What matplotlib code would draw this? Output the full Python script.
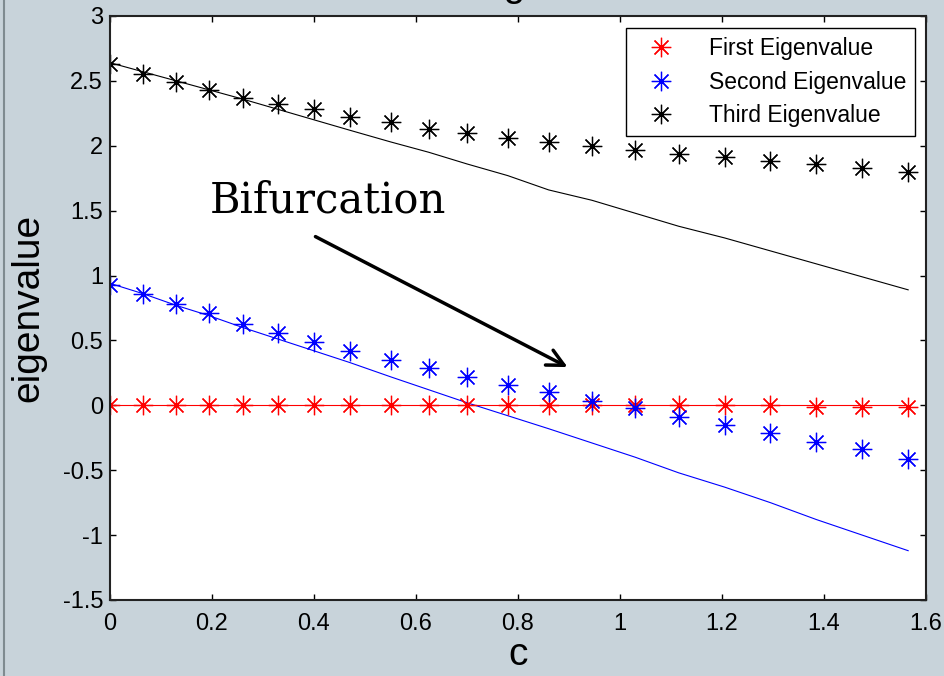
# -*- coding:utf-8 -*-
import matplotlib
matplotlib.use('Agg')
import matplotlib.pyplot as plt
from matplotlib.lines import Line2D

# sample points of c
c = [0.0, 0.065, 0.13, 0.195, 0.26, 0.33, 0.40, 0.47, 0.55, 0.625, 0.70,
     0.78, 0.86, 0.945, 1.03, 1.115, 1.205, 1.295, 1.385, 1.475, 1.565]

# markers (computed eigenvalues)
first_pts = [0.0, 0.0, 0.0, 0.0, 0.0, 0.0, 0.0, 0.0, 0.0, 0.0, 0.0,
             0.0, 0.0, 0.0, 0.0, 0.0, 0.0, 0.0, -0.01, -0.01, -0.01]
second_pts = [0.93, 0.86, 0.78, 0.71, 0.63, 0.56, 0.49, 0.42, 0.35, 0.29, 0.22,
              0.16, 0.10, 0.03, -0.02, -0.09, -0.15, -0.21, -0.28, -0.34, -0.41]
third_pts = [2.63, 2.55, 2.49, 2.43, 2.37, 2.32, 2.28, 2.22, 2.18, 2.13, 2.10,
             2.06, 2.03, 2.00, 1.97, 1.94, 1.91, 1.88, 1.86, 1.83, 1.80]

# thin lines (analytic curves)
first_line = [0.0] * 21
second_line = [0.94, 0.86, 0.77, 0.69, 0.60, 0.51, 0.42, 0.33, 0.22, 0.12, 0.02,
               -0.08, -0.18, -0.29, -0.40, -0.52, -0.63, -0.75, -0.88, -1.00, -1.12]
third_line = [2.64, 2.57, 2.50, 2.43, 2.36, 2.28, 2.20, 2.12, 2.03, 1.95, 1.86,
              1.77, 1.66, 1.58, 1.48, 1.38, 1.29, 1.19, 1.09, 0.99, 0.89]

bg = '#c8d3da'
plt.rcParams['font.family'] = ['Liberation Sans', 'DejaVu Sans']

fig = plt.figure(figsize=(9.44, 6.76), dpi=100, facecolor=bg)
ax = fig.add_axes([110 / 944, 1 - 600 / 676, 816 / 944, 584 / 676])
ax.set_facecolor('white')

star = (8, 2, 0)
ax.plot(c, first_line, color='red', lw=0.8)
ax.plot(c, second_line, color='blue', lw=0.8)
ax.plot(c, third_line, color='black', lw=0.8)
ax.plot(c, first_pts, ls='none', marker=star, ms=14, mew=0.9, color='red',
        label='First Eigenvalue')
ax.plot(c, second_pts, ls='none', marker=star, ms=14, mew=0.9, color='blue',
        label='Second Eigenvalue')
ax.plot(c, third_pts, ls='none', marker=star, ms=14, mew=0.9, color='black',
        label='Third Eigenvalue')

ax.set_xlim(0, 1.6)
ax.set_ylim(-1.5, 3)
ax.set_xticks([0, 0.2, 0.4, 0.6, 0.8, 1, 1.2, 1.4, 1.6])
ax.set_xticklabels(['0', '0.2', '0.4', '0.6', '0.8', '1', '1.2', '1.4', '1.6'])
ax.set_yticks([-1.5, -1, -0.5, 0, 0.5, 1, 1.5, 2, 2.5, 3])
ax.set_yticklabels(['-1.5', '-1', '-0.5', '0', '0.5', '1', '1.5', '2', '2.5', '3'])
ax.tick_params(direction='in', length=4, width=1, top=True, right=True,
               labelsize=17)
ax.tick_params(axis='x', pad=9)
ax.tick_params(axis='y', pad=5)
for s in ax.spines.values():
    s.set_linewidth(1.5)
    s.set_color('#222222')

ax.set_xlabel('c', fontsize=28, labelpad=2)
ax.set_ylabel('eigenvalue', fontsize=28, labelpad=12)

leg = ax.legend(loc='upper right', bbox_to_anchor=(0.987, 0.979), fontsize=16.5,
                fancybox=False, framealpha=1, edgecolor='black',
                handletextpad=1.0, borderpad=0.4, labelspacing=0.45,
                handlelength=2.2, borderaxespad=0)
leg.get_frame().set_linewidth(1)

ax.annotate('', xy=(0.902, 0.285), xytext=(0.398, 1.31),
            arrowprops=dict(arrowstyle='->', color='black', lw=2.5,
                            mutation_scale=30))
ax.text(0.195, 1.485, 'Bifurcation', fontsize=30, family='DejaVu Serif',
        va='baseline')

# title cut off at the top edge of the screenshot
fig.text(470 / 944, 1 + 4 / 676, 'Eigenvalues', fontsize=28, ha='left',
         va='baseline')

fig.add_artist(Line2D([4 / 944, 4 / 944], [0, 1], color='#7f8b90', lw=1.5))

fig.savefig('out.png', dpi=100, facecolor=bg)
